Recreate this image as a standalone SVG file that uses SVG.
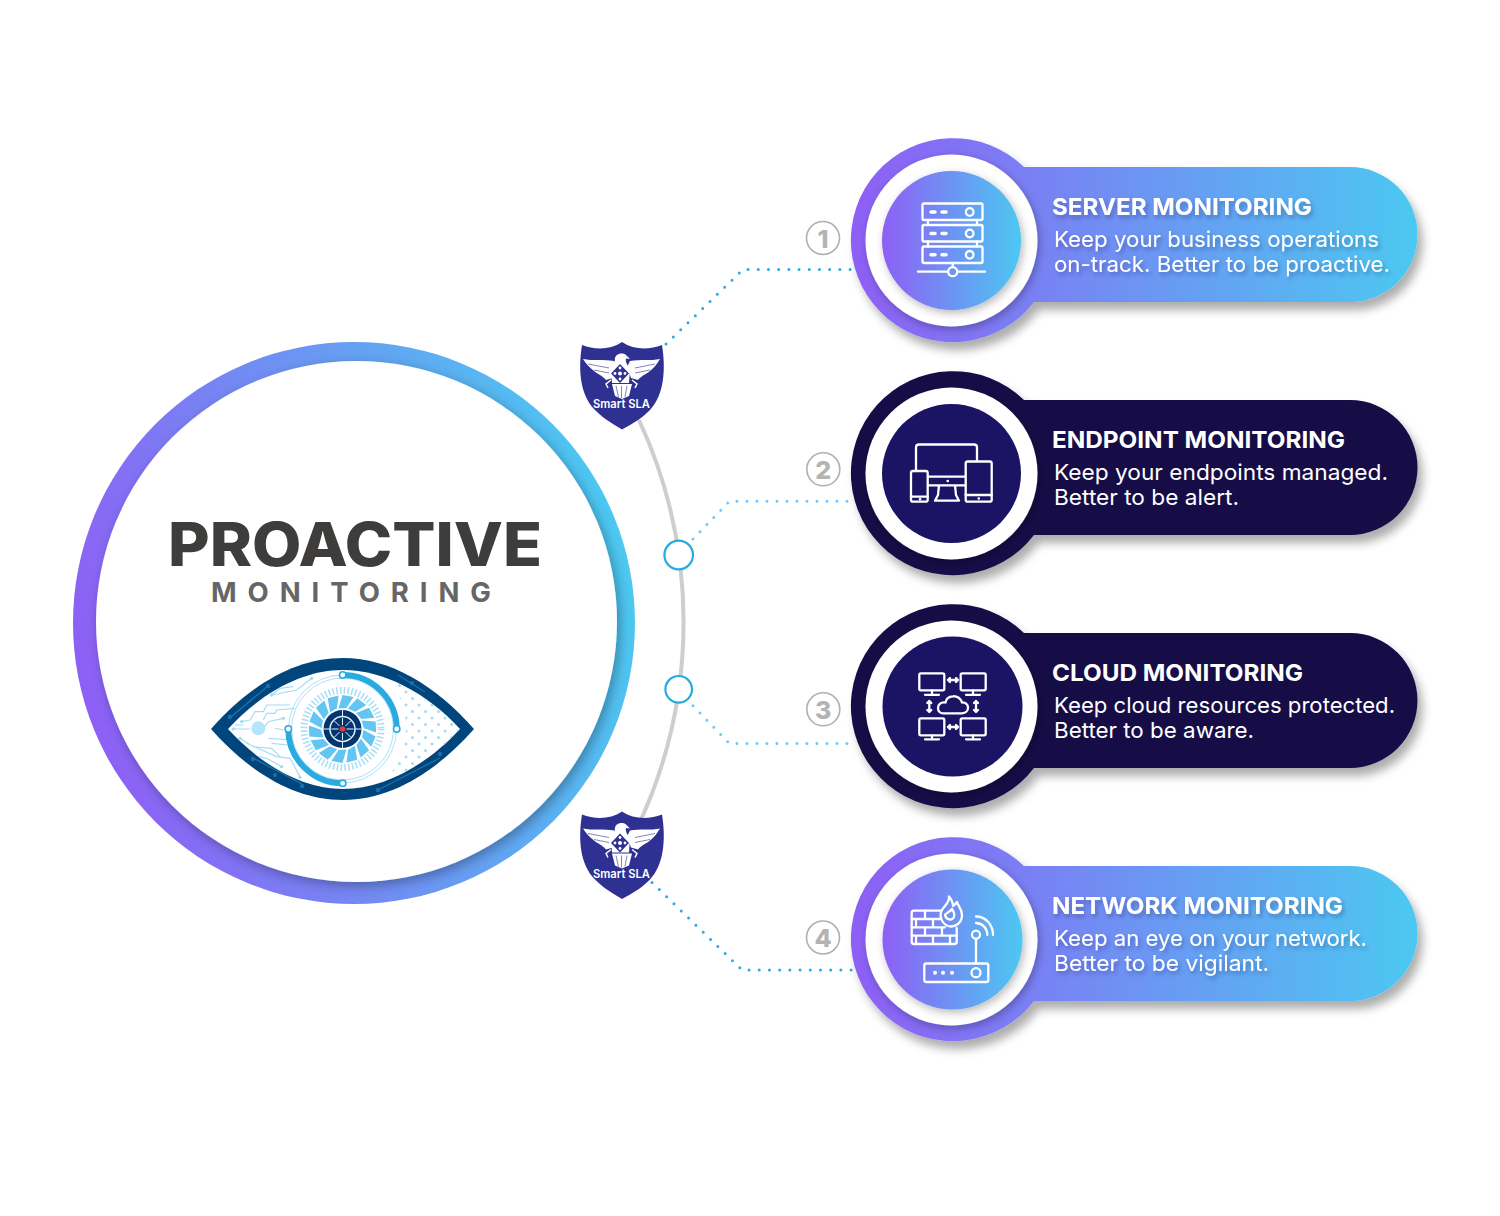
<svg xmlns="http://www.w3.org/2000/svg" xmlns:xlink="http://www.w3.org/1999/xlink" width="1500" height="1216" viewBox="0 0 1500 1216">
<style>
text{font-family:"Inter","Liberation Sans",sans-serif}
.ct{font-size:23.500px;font-weight:700;fill:#fff}
.cb{font-size:22px;font-weight:400;fill:#fff}
.ic{fill:none;stroke:#fff;stroke-width:2.300;stroke-linecap:round;stroke-linejoin:round}
.dotA{fill:none;stroke:#29abe2;stroke-width:3;stroke-linecap:round;stroke-dasharray:0 10.2}
.dotB{fill:none;stroke:#6fcaf2;stroke-width:3;stroke-linecap:round;stroke-dasharray:0 10}
.num{fill:none;stroke:#b0b0b0;stroke-width:1.600}
.numt{font-size:25px;font-weight:800;fill:#b3b3b3;text-anchor:middle}
.hub{fill:#fff;stroke:#29abe2;stroke-width:2.200}
.sl{font-size:12px;font-weight:600;fill:#fff}
.cir{fill:none;stroke:#aee1f8;stroke-width:1}
.band{fill:none;stroke:#1c6fa8;stroke-width:1.400}
</style>
<defs>
<linearGradient id="gCard" gradientUnits="userSpaceOnUse" x1="851" y1="0" x2="1417" y2="0"><stop offset="0" stop-color="#8e5ff5"/><stop offset="1" stop-color="#4cc8f1"/></linearGradient>
<linearGradient id="gIn" gradientUnits="objectBoundingBox" x1="0" y1="0" x2="1" y2="0"><stop offset="0" stop-color="#8e5ff5"/><stop offset="1" stop-color="#4cc8f1"/></linearGradient>
<linearGradient id="gBig" gradientUnits="userSpaceOnUse" x1="85" y1="700" x2="625" y2="570"><stop offset="0" stop-color="#8e5ff5"/><stop offset="1" stop-color="#4cc8f1"/></linearGradient>
<filter id="sCard" x="-10%" y="-15%" width="125%" height="135%"><feDropShadow dx="5" dy="8" stdDeviation="5" flood-color="#000" flood-opacity=".32"/></filter>
<filter id="sRing" x="-15%" y="-15%" width="130%" height="130%"><feDropShadow dx="2" dy="3" stdDeviation="4" flood-color="#000" flood-opacity=".28"/></filter>
<filter id="sBig" x="-8%" y="-8%" width="116%" height="116%"><feDropShadow dx="3" dy="4" stdDeviation="6" flood-color="#000" flood-opacity=".3"/></filter>
<filter id="sText" x="-5%" y="-20%" width="110%" height="150%"><feDropShadow dx="2" dy="3" stdDeviation="2" flood-color="#1a1a4a" flood-opacity=".3"/></filter>
<clipPath id="eyeIn"><path d="M228,729C262,692 303,670 343,670C383,670 426,692 460,729C426,766 383,789 343,789C303,789 262,766 228,729Z"/></clipPath>
<pattern id="eyeDots" patternUnits="userSpaceOnUse" width="13" height="13"><circle cx="3" cy="3" r="1.500" fill="#a4dcf7"/><circle cx="9.500" cy="9.500" r="1.500" fill="#a4dcf7"/></pattern>
<path id="blade" d="M-4,-20.500L4,-21L11,-32L0,-34Z" fill="#63c5f2"/>
<path id="shBody" d="M622,342C610,350 595,350 582,345C578,370 580,395 595,410C605,420 615,425 622,429.500C630,425 640,420 650,410C664,395 666,370 662,345C649,350 634,350 622,342Z" fill="#2e3192"/>
<g id="eagle">
<path d="M583,359C592,361 604,359 614,361L617,367L613,378L606,380C602,375 597,374 594,371C590,368 586,364 583,359Z" fill="#fff"/>
<path d="M660,359C651,361 640,359 630,361L627,367L631,378L638,380C642,375 647,374 650,371C654,368 657,364 660,359Z" fill="#fff"/>
<path d="M588,364L609,368M594,370L609,373M655,364L635,368M650,370L635,373" stroke="#2e3192" stroke-width=".6" fill="none"/>
<path d="M615,358C616,354 622,352 626,355L630,359L626,358.500C625,362 628,366 630,369L629,383L612,383L611,369C613,366 615,362 615,358Z" fill="#fff"/>
<path d="M620,364L629,373.500L620,383L611,373.500Z" fill="#2e3192"/>
<circle cx="620" cy="373.500" r="2" fill="#fff"/><circle cx="620" cy="368" r="1.400" fill="#fff"/><circle cx="620" cy="379" r="1.400" fill="#fff"/><circle cx="615" cy="373.500" r="1.400" fill="#fff"/><circle cx="625" cy="373.500" r="1.400" fill="#fff"/>
<path d="M612,384L632,384L629,396L622,399L615,396Z" fill="#fff"/>
<path d="M616,386L618.500,397M621.500,386L621.500,398M627,386L625,397" stroke="#2e3192" stroke-width=".6" fill="none"/>
<path d="M611,380L606,384L608,388M632,380L637,384L635,388" stroke="#fff" stroke-width="1.500" fill="none"/>
</g>
</defs>
<rect width="1500" height="1216" fill="#fff"/>

<g id="connectors">
<path d="M639,420A480,480 0 0 1 639,824" fill="none" stroke="#cecece" stroke-width="4"/>
<path class="dotA" d="M666,344L743,269.500L852,269.500"/>
<path class="dotB" d="M693,539L729.300,501.300L852,501.300"/>
<path class="dotB" d="M693,705.700L729.300,743.500L852,743.500"/>
<path class="dotA" d="M652,882.500L742,970L856,970"/>
</g>

<g id="node-hub-a"><circle class="hub" cx="678.700" cy="555" r="14.300"/></g>
<g id="node-hub-b"><circle class="hub" cx="678.700" cy="689.300" r="13.300"/></g>

<g id="node-main">
<circle cx="354" cy="623" r="281" fill="url(#gBig)"/>
<circle cx="356.500" cy="621.500" r="260.500" fill="#fff" filter="url(#sBig)"/>
<text x="168" y="566" font-size="60" font-weight="800" fill="#3e3d3b" textLength="374" lengthAdjust="spacingAndGlyphs">PROACTIVE</text>
<text x="211" y="602" font-size="27.500" font-weight="700" fill="#666" textLength="280" lengthAdjust="spacing">MONITORING</text>
<g id="eye">
<path d="M211,729C250,685 295,658 343,658C390,658 435,685 474,729C435,773 390,800 343,800C295,800 250,773 211,729Z" fill="#00457c"/>
<path d="M228,729C262,692 303,670 343,670C383,670 426,692 460,729C426,766 383,789 343,789C303,789 262,766 228,729Z" fill="#fff"/>
<path class="band" d="M232,716L268,686M398,675L425,692M253,758L302,784M378,790L440,758"/>
<g fill="#1c6fa8"><circle cx="230" cy="717" r="2.200"/><circle cx="268" cy="686" r="2.200"/><circle cx="253" cy="759" r="2.200"/><circle cx="302" cy="786" r="2.200"/><circle cx="378" cy="790" r="2.200"/><circle cx="440" cy="754" r="2.200"/><circle cx="412" cy="683" r="2"/><circle cx="275" cy="775" r="2"/></g>
<g clip-path="url(#eyeIn)">
<path d="M383,672H470V790H375C398,770 406,750 406,729C406,705 398,690 383,672Z" fill="url(#eyeDots)"/>
<g transform="translate(200,650) scale(.3333)">
<path fill="none" stroke="#a4dcf7" stroke-width="3.500" d="M335,85L290,120L215,135M280,110L240,115L215,135M270,165H200L190,185H165L150,210L125,215M285,175L230,180L225,190H200L190,210M250,205L205,215L190,235M100,237H150M205,265L280,270M140,280L230,320L270,325L300,380M120,265L160,290L215,295L240,320M155,315L200,325L245,350M215,280L265,285M225,235L250,240M105,225L130,225"/>
<g fill="#a4dcf7"><circle cx="335" cy="85" r="5"/><circle cx="215" cy="135" r="5"/><circle cx="125" cy="215" r="5"/><circle cx="100" cy="237" r="5"/><circle cx="300" cy="382" r="5"/><circle cx="245" cy="350" r="5"/><circle cx="120" cy="265" r="5"/><circle cx="250" cy="205" r="5"/></g>
<circle cx="175" cy="235" r="21" fill="#b5e5fa"/>
</g>
</g>
<circle class="cir" cx="342.500" cy="729" r="54"/>
<circle class="cir" cx="342.500" cy="729" r="51"/>
<circle cx="342.500" cy="729" r="38.500" fill="none" stroke="#a8def7" stroke-width="7" stroke-dasharray="1.500 2.300"/>
<g transform="translate(342.500,729)">
<use xlink:href="#blade" href="#blade"/>
<use href="#blade" transform="rotate(25.700)"/><use href="#blade" transform="rotate(51.400)"/><use href="#blade" transform="rotate(77.100)"/><use href="#blade" transform="rotate(102.900)"/><use href="#blade" transform="rotate(128.600)"/><use href="#blade" transform="rotate(154.300)"/><use href="#blade" transform="rotate(180)"/><use href="#blade" transform="rotate(205.700)"/><use href="#blade" transform="rotate(231.400)"/><use href="#blade" transform="rotate(257.100)"/><use href="#blade" transform="rotate(282.900)"/><use href="#blade" transform="rotate(308.600)"/><use href="#blade" transform="rotate(334.300)"/>
<circle r="19" fill="#04346e"/>
<circle r="12.500" fill="#04346e" stroke="#dff3fc" stroke-width="1.500"/>
<path d="M0,-19V-12.500M0,19V12.500M-19,0H-12.500M19,0H12.500" stroke="#dff3fc" stroke-width="1"/>
<path d="M0,-11V-4M0,11V4M-11,0H-4M11,0H4M-8,-8L-3,-3M8,8L3,3M-8,8L-3,3M8,-8L3,-3" stroke="#dff3fc" stroke-width="1"/>
<circle r="2.800" fill="#d9403a"/>
</g>
<path d="M342.700,675A54,54 0 0 1 396.700,729" fill="none" stroke="#29abe2" stroke-width="6"/>
<path d="M288.300,729A54.300,54.300 0 0 0 342.700,783.300" fill="none" stroke="#29abe2" stroke-width="6"/>
<g fill="#fff" stroke="#29abe2" stroke-width="1.600"><circle cx="342.700" cy="675" r="3.200"/><circle cx="396.700" cy="729" r="3.200"/><circle cx="288.300" cy="729" r="3.200"/><circle cx="342.700" cy="783.300" r="3.200"/></g>
</g>
</g>

<g id="node-shield-1">
<use href="#shBody"/><use href="#eagle"/>
<text class="sl" x="593" y="408" textLength="57" lengthAdjust="spacingAndGlyphs">Smart SLA</text>
</g>
<g id="node-shield-2">
<use href="#shBody" transform="translate(0,469.500)"/><use href="#eagle" transform="translate(0,469.500)"/>
<text class="sl" x="593" y="877.500" textLength="57" lengthAdjust="spacingAndGlyphs">Smart SLA</text>
</g>

<g id="node-badge-1"><circle class="num" cx="823" cy="238" r="16.500"/><text class="numt" x="823" y="247.500">1</text></g>
<g id="node-badge-2"><circle class="num" cx="823.300" cy="469.300" r="16.500"/><text class="numt" x="823.300" y="478.800">2</text></g>
<g id="node-badge-3"><circle class="num" cx="823.300" cy="709.300" r="16.500"/><text class="numt" x="823.300" y="718.800">3</text></g>
<g id="node-badge-4"><circle class="num" cx="823" cy="937.500" r="16.500"/><text class="numt" x="823" y="947">4</text></g>

<g id="node-server">
<path d="M1024,167L1350,167A67.500,67.500 0 0 1 1350,302L1034,302A102,102 0 1 1 1024,167Z" fill="url(#gCard)" filter="url(#sCard)"/>
<circle cx="951.500" cy="240.500" r="86" fill="#fff" filter="url(#sRing)"/>
<circle cx="951.500" cy="240.500" r="69.500" fill="url(#gIn)" filter="url(#sRing)"/>
<g class="ic">
<rect x="922.500" y="203.500" width="60" height="16.500" rx="1.500"/><rect x="922.500" y="225" width="60" height="16.500" rx="1.500"/><rect x="922.500" y="246.500" width="60" height="16.500" rx="1.500"/>
<path d="M928,220V225M977,220V225M928,241.500V246.500M977,241.500V246.500M918,271.700H948M957.500,271.700H985M952.700,263V267"/>
<circle cx="952.700" cy="271.700" r="4.500"/><circle cx="969.700" cy="212" r="3.800"/><circle cx="969.700" cy="233.500" r="3.800"/><circle cx="969.700" cy="254.800" r="3.800"/>
<path stroke-width="3.500" d="M931,212H935M942,212H946M931,233.500H935M942,233.500H946M931,254.800H935M942,254.800H946"/>
</g>
<g filter="url(#sText)">
<text class="ct" x="1052" y="215" textLength="260" lengthAdjust="spacingAndGlyphs">SERVER MONITORING</text>
<text class="cb" x="1054" y="246.500" textLength="325" lengthAdjust="spacingAndGlyphs">Keep your business operations</text>
<text class="cb" x="1054" y="271.500" textLength="336" lengthAdjust="spacingAndGlyphs">on-track. Better to be proactive.</text>
</g>
</g>

<g id="node-endpoint">
<path d="M1024,400L1350,400A67.500,67.500 0 0 1 1350,535L1034,535A102,102 0 1 1 1024,400Z" fill="#130f47" filter="url(#sCard)"/>
<circle cx="951.500" cy="473.500" r="86" fill="#fff" filter="url(#sRing)"/>
<circle cx="951.500" cy="473.500" r="69.500" fill="#1b1464"/>
<g class="ic">
<path d="M916,471V447.300Q916,444.500 919,444.500H974Q977,444.500 977,447.300V461"/>
<path d="M928,476.700H965.500M928,485.300H965.500M939,485.300L938,495L935,500.700H959L956,495L955,485.300"/>
<rect x="911" y="471" width="16.700" height="30.700" rx="2"/><path d="M911,496.700H927.700"/>
<rect x="965.700" y="461.500" width="26" height="40.200" rx="2"/><path d="M965.700,495H991.700"/>
<path stroke-width="2.600" d="M947.700,481H947.800M920,499.300H920.100M978.700,498.500H978.800"/>
</g>
<text class="ct" x="1052" y="448" textLength="293" lengthAdjust="spacingAndGlyphs">ENDPOINT MONITORING</text>
<text class="cb" x="1054" y="479.500" textLength="334" lengthAdjust="spacingAndGlyphs">Keep your endpoints managed.</text>
<text class="cb" x="1054" y="504.500" textLength="185" lengthAdjust="spacingAndGlyphs">Better to be alert.</text>
</g>

<g id="node-cloud">
<path d="M1024,633L1350,633A67.500,67.500 0 0 1 1350,768L1034,768A102,102 0 1 1 1024,633Z" fill="#130f47" filter="url(#sCard)"/>
<circle cx="951.500" cy="706.500" r="86" fill="#fff" filter="url(#sRing)"/>
<circle cx="952.500" cy="706.500" r="70" fill="#1b1464"/>
<g class="ic">
<rect x="919.300" y="673.300" width="25" height="17" rx="1.500"/><path d="M932,690.300V694.500M925,694.800H939"/>
<rect x="960.700" y="673.300" width="25" height="17" rx="1.500"/><path d="M973,690.300V694.500M966,694.800H980"/>
<rect x="919.300" y="718.300" width="25" height="17" rx="1.500"/><path d="M932,735.300V739M925,739.300H939"/>
<rect x="960.700" y="718.300" width="25" height="17" rx="1.500"/><path d="M973,735.300V739M966,739.300H980"/>
<path d="M948,680H958M950,678L948,680L950,682M956,678L958,680L956,682M948,727H958M950,725L948,727L950,729M956,725L958,727L956,729"/>
<path d="M929.300,701V712M927.300,703L929.300,701L931.300,703M927.300,710L929.300,712L931.300,710M976,701V712M974,703L976,701L978,703M974,710L976,712L978,710"/>
<path d="M943,713.300H962C966,713.300 968,710.500 968,707.500C968,704.500 965,702 962,702.500C961,698.500 957,696 953,696.300C949,696.500 946,699 945.500,702.500C941,701.500 938,704.500 938,708C938,711 940,713.300 943,713.300Z"/>
</g>
<text class="ct" x="1052" y="681" textLength="251" lengthAdjust="spacingAndGlyphs">CLOUD MONITORING</text>
<text class="cb" x="1054" y="712.500" textLength="341" lengthAdjust="spacingAndGlyphs">Keep cloud resources protected.</text>
<text class="cb" x="1054" y="737.500" textLength="200" lengthAdjust="spacingAndGlyphs">Better to be aware.</text>
</g>

<g id="node-network">
<path d="M1024,866L1350,866A67.500,67.500 0 0 1 1350,1001L1034,1001A102,102 0 1 1 1024,866Z" fill="url(#gCard)" filter="url(#sCard)"/>
<circle cx="951.500" cy="939.500" r="86" fill="#fff" filter="url(#sRing)"/>
<circle cx="952.500" cy="939.500" r="70" fill="url(#gIn)" filter="url(#sRing)"/>
<g class="ic" stroke-width="1.800">
<path d="M940,910.700H914Q911.700,910.700 911.700,913V941.700Q911.700,944 914,944H954.500Q956.700,944 956.700,941.700V928"/>
<path d="M911.700,919H941M911.700,927.300H945M911.700,935.600H956.700M925,910.700V919M916,919V927.300M933,919V927.300M925,927.300V935.600M942,927.300V935.600M916,935.600V944M933,935.600V944M950,935.600V944"/>
<path d="M949,896.500C950,902 945,905 942,910C939,915 941,923 948,926C955,928 962,923 962,915C962,909 958,906 957,902C955,905 953,906 953,906C953,902 951,899 949,896.500Z"/>
<path d="M945,915C947,912 950,912 952,909C954,912 955,914 954,917C952,921 946,920 945,915Z"/>
<rect x="924.300" y="963.500" width="64" height="18.500" rx="2"/>
<circle cx="976" cy="972.700" r="4.500"/>
<path d="M976,963.500V939"/><circle cx="976" cy="934.700" r="4"/>
<path d="M976,923C982,923 987.300,928 987.300,935M976,916.500C986,916.500 993,925 993,935"/>
<path stroke-width="4" d="M935,972.700H935.100M943,972.700H943.100M952,972.700H952.100"/>
</g>
<g filter="url(#sText)">
<text class="ct" x="1052" y="914" textLength="291" lengthAdjust="spacingAndGlyphs">NETWORK MONITORING</text>
<text class="cb" x="1054" y="945.500" textLength="313" lengthAdjust="spacingAndGlyphs">Keep an eye on your network.</text>
<text class="cb" x="1054" y="970.500" textLength="215" lengthAdjust="spacingAndGlyphs">Better to be vigilant.</text>
</g>
</g>
</svg>
